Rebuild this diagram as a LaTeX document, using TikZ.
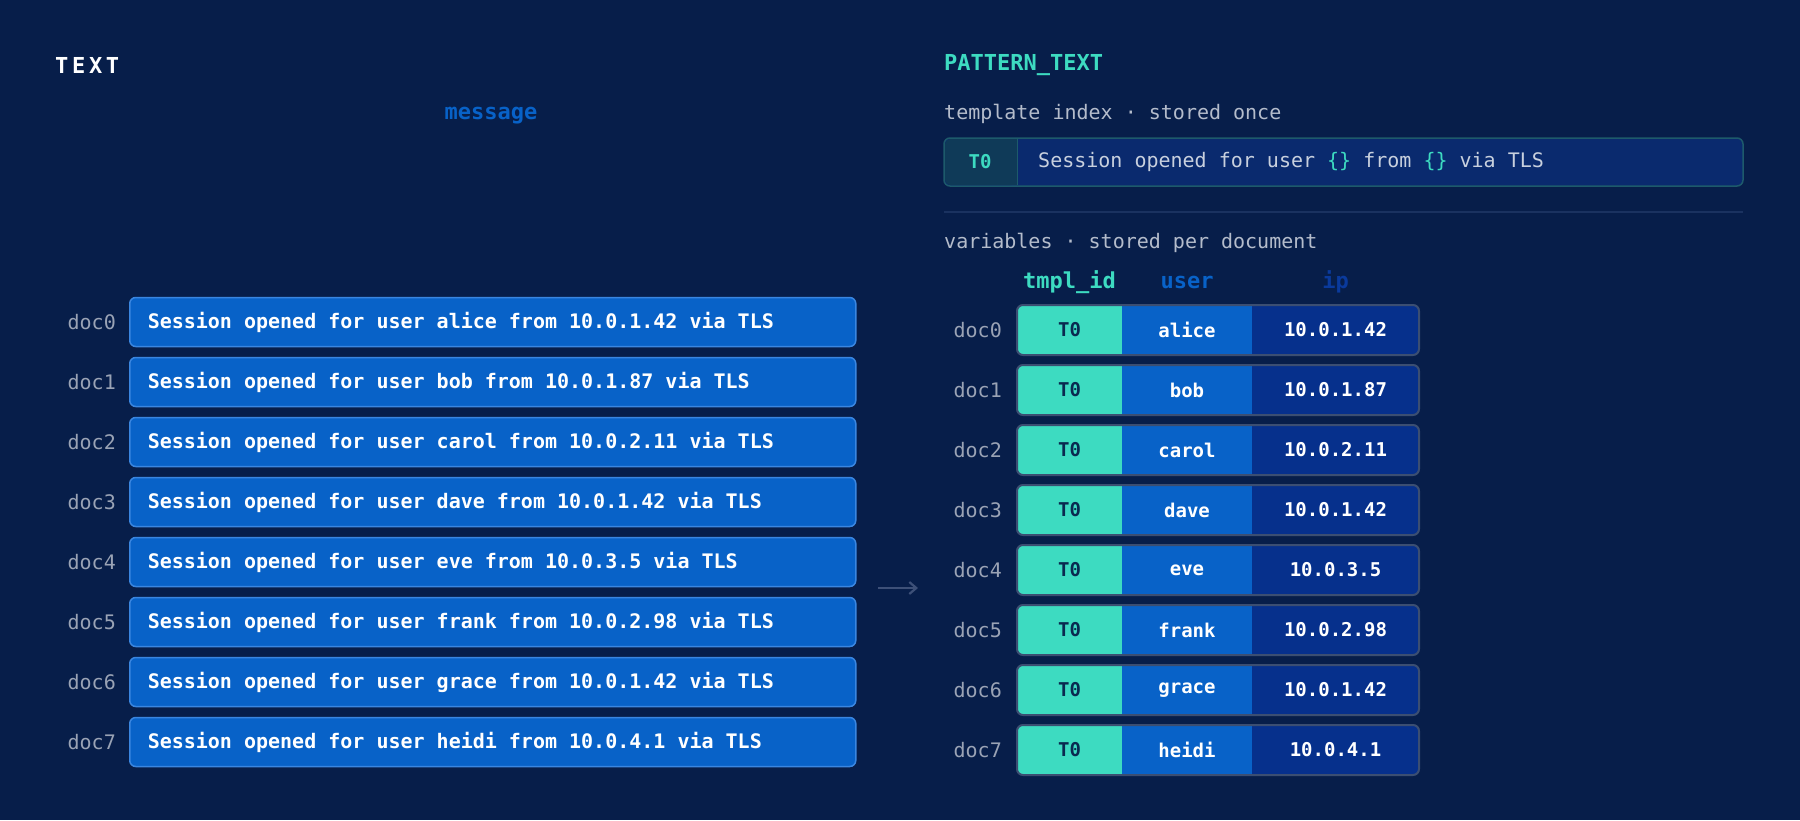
\documentclass[tikz,border=0pt]{standalone}
\usepackage{fontspec}
\setmonofont{DejaVu Sans Mono}[BoldFont={DejaVu Sans Mono Bold}]
\usepackage{tikz}
\usetikzlibrary{arrows.meta,positioning}

\definecolor{bgnavy}{HTML}{071E4A}
\definecolor{msgblue}{HTML}{0862C8}
\definecolor{msgedge}{HTML}{3A86E0}
\definecolor{tealcol}{HTML}{3DDBC1}
\definecolor{ipblue}{HTML}{06308C}
\definecolor{rowedge}{HTML}{3B4E72}
\definecolor{docgray}{HTML}{9AA3B5}
\definecolor{lblgray}{HTML}{B4BCCB}
\definecolor{iphead}{HTML}{0A3A9C}
\definecolor{tplfill}{HTML}{0A2A6E}
\definecolor{tplid}{HTML}{0F3A58}
\definecolor{tpledge}{HTML}{1D5A6B}
\definecolor{tpltext}{HTML}{C8D0DE}
\definecolor{sepline}{HTML}{1A3260}
\definecolor{arrowgray}{HTML}{3D5078}
\definecolor{darkink}{HTML}{0A2A50}

\newcommand\bigmono{\fontsize{22}{26}\selectfont\bfseries}
\newcommand\rowmono{\fontsize{20}{24}\selectfont}
\newcommand\cellmono{\fontsize{19}{23}\selectfont\bfseries}

\begin{document}
\begin{tikzpicture}[%
		x=1pt, y=-1pt,
		font=\ttfamily,
		>={Straight Barb[length=7pt,width=12pt]},
		msgbox/.style={draw=msgedge, fill=msgblue, line width=1.5pt, rounded corners=6pt,
			minimum width=726pt, minimum height=49pt, inner xsep=18pt, anchor=west,
			text width=690pt, align=flush left, text=white, font=\ttfamily\rowmono\bfseries},
		doclabel/.style={text=docgray, inner sep=0pt, font=\ttfamily\rowmono},
		cell/.style={minimum height=50pt, inner sep=0pt, outer sep=0pt, font=\ttfamily\cellmono},
		tidcell/.style={cell, fill=tealcol, text=darkink, minimum width=105pt},
		usrcell/.style={cell, fill=msgblue, text=white, minimum width=130pt},
		ipcell/.style={cell, fill=ipblue, text=white, minimum width=167pt},
		colhead/.style={font=\ttfamily\bigmono, inner sep=0pt},
		sublabel/.style={text=lblgray, anchor=west, inner sep=0pt, font=\ttfamily\rowmono}
		]

		% Hintergrund
		\fill[bgnavy] (0,0) rectangle (1800,820);

		% linke Seite: TEXT
		\node[anchor=west, inner sep=0pt, text=white, font=\ttfamily\bigmono] (titletext) at (55,65) {T\,E\,X\,T};
		\node[colhead, text=msgblue] (hdmsg) at (491,116) {message};

		% rechte Seite: PATTERN_TEXT
		\node[anchor=west, inner sep=0pt, text=tealcol, font=\ttfamily\bigmono] (titlepat) at (944,65) {PATTERN\_TEXT};
		\node[sublabel] (lbltpl) at (944,114) {template index · stored once};

		\draw[tpledge, fill=tplfill, line width=1.5pt, rounded corners=6pt] (944,138) rectangle (1743,186);
		\fill[tplid, rounded corners=6pt] (945,139) rectangle (1017,185);
		\fill[tplid] (1005,139) rectangle (1017,185);
		\draw[tpledge, line width=1pt] (1017,139) -- (1017,185);
		\node[text=tealcol, inner sep=0pt, font=\ttfamily\cellmono] (tplT) at (980,162) {T0};
		\node[anchor=west, inner sep=0pt, text=tpltext, font=\ttfamily\rowmono] (tplstr) at (1038,162)
			{Session opened for user \textcolor{tealcol}{\{\}} from \textcolor{tealcol}{\{\}} via TLS};

		\draw[sepline, line width=1.5pt] (944,212) -- (1743,212);
		\node[sublabel] (lblvar) at (944,243) {variables · stored per document};

		\node[colhead, text=tealcol] (hdtid) at (1069.5,282) {tmpl\_id};
		\node[colhead, text=msgblue] (hdusr) at (1187,282) {user};
		\node[colhead, text=iphead] (hdip) at (1335.5,282) {ip};

		% Zeilen
		\foreach \nm/\ip [count=\i from 0] in {alice/10.0.1.42, bob/10.0.1.87, carol/10.0.2.11, dave/10.0.1.42,
				eve/10.0.3.5, frank/10.0.2.98, grace/10.0.1.42, heidi/10.0.4.1} {
			\pgfmathsetmacro\ly{322+60*\i}
			\pgfmathsetmacro\ry{330+60*\i}

			\node[msgbox] (msg\i) at (129,\ly) {Session opened for user \nm{} from \ip{} via TLS};
			\node[doclabel, left=13pt of msg\i] (ldoc\i) {doc\i};

			\begin{scope}
				\clip[rounded corners=6pt] (1017,\ry-25) rectangle (1419,\ry+25);
				\node[tidcell] (tid\i) at (1069.5,\ry) {T0};
				\node[usrcell, right=0pt of tid\i] (usr\i) {\nm};
				\node[ipcell, right=0pt of usr\i] (ip\i) {\ip};
			\end{scope}
			\draw[rowedge, line width=2pt, rounded corners=6pt] (tid\i.north west) rectangle (ip\i.south east);
			\node[doclabel, left=15pt of tid\i] (rdoc\i) {doc\i};
		}

		% Pfeil
		\coordinate (arrfrom) at (878,588);
		\coordinate (arrto) at (918,588);
		\draw[->, arrowgray, line width=2.2pt] (arrfrom) -- (arrto);
	\end{tikzpicture}
\end{document}
